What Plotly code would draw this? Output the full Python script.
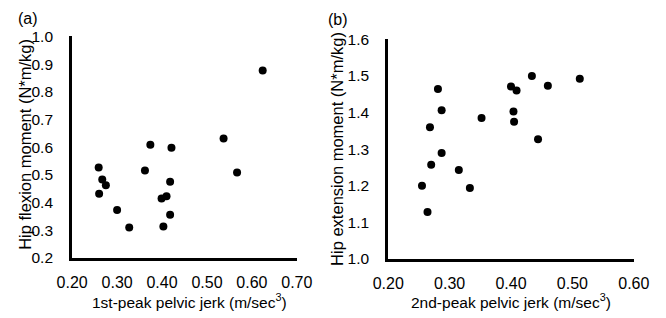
import plotly.graph_objects as go

# Panel (a)
jerk1 = [0.624, 0.374, 0.421, 0.537, 0.259, 0.362, 0.567, 0.267, 0.275, 0.418,
         0.260, 0.399, 0.410, 0.300, 0.418, 0.327, 0.403]
flex = [0.877, 0.609, 0.598, 0.631, 0.527, 0.516, 0.509, 0.483, 0.463, 0.475,
        0.432, 0.415, 0.423, 0.373, 0.356, 0.310, 0.314]
# Panel (b)
jerk2 = [0.281, 0.287, 0.268, 0.352, 0.400, 0.409, 0.404, 0.405, 0.434, 0.460,
         0.512, 0.444, 0.287, 0.270, 0.315, 0.255, 0.333, 0.264]
ext = [1.464, 1.406, 1.360, 1.385, 1.471, 1.460, 1.403, 1.375, 1.500, 1.473,
       1.492, 1.327, 1.289, 1.257, 1.243, 1.200, 1.194, 1.128]

xa_ticks = [0.2, 0.3, 0.4, 0.5, 0.6, 0.7]
ya_ticks = [0.2, 0.3, 0.4, 0.5, 0.6, 0.7, 0.8, 0.9, 1.0]
xb_ticks = [0.2, 0.3, 0.4, 0.5, 0.6]
yb_ticks = [1.0, 1.1, 1.2, 1.3, 1.4, 1.5, 1.6]

W, H = 666, 318
FONT = "Liberation Sans, Arial, sans-serif"

fig = go.Figure()
mk = dict(color="black", size=8)
fig.add_trace(go.Scatter(x=jerk1, y=flex, mode="markers", marker=mk, xaxis="x", yaxis="y", showlegend=False))
fig.add_trace(go.Scatter(x=jerk2, y=ext, mode="markers", marker=mk, xaxis="x2", yaxis="y2", showlegend=False))

def ax(domain, rng, ticks, fmt, anchor, tlen, fsize):
    return dict(domain=domain, range=rng, tickvals=ticks, ticktext=[fmt.format(t) for t in ticks],
                showgrid=False, zeroline=False, showline=True, linecolor="black", linewidth=3,
                ticks="outside", ticklen=tlen, tickcolor="rgba(0,0,0,0)",
                tickfont=dict(size=fsize, color="black", family=FONT), anchor=anchor,
                fixedrange=True)

fig.update_layout(
    width=W, height=H, margin=dict(l=0, r=0, t=0, b=0),
    paper_bgcolor="white", plot_bgcolor="white",
    font=dict(family=FONT, color="black"),
    xaxis=ax([59/W, 295/W], [0.2, 0.7], xa_ticks, "{:.2f}", "y", 8, 16),
    yaxis=ax([1-263/H, 1-29/H], [0.2, 1.0], ya_ticks, "{:.1f}", "x", 13, 15.5),
    xaxis2=ax([391/W, 649/W], [0.2, 0.6], xb_ticks, "{:.2f}", "y2", 8, 16),
    yaxis2=ax([1-264/H, 1-32/H], [1.0, 1.6], yb_ticks, "{:.1f}", "x2", 13, 15.5),
)

def ann(text, x, y, size, angle=0):
    fig.add_annotation(text=text, x=x/W, y=1-y/H, xref="paper", yref="paper", showarrow=False,
                       textangle=angle, font=dict(size=size, color="black", family=FONT),
                       xanchor="center", yanchor="middle")

ann("(a)", 13, 10, 16)
ann("(b)", 338, 11, 16)
ann("Hip flexion moment (N*m/kg)", 10, 143, 16.5, -90)
ann("Hip extension moment (N*m/kg)", 337, 148, 16.5, -90)
ann("1st-peak pelvic jerk (m/sec<sup>3</sup>)", 182, 308, 15.5)
ann("2nd-peak pelvic jerk (m/sec<sup>3</sup>)", 520, 308, 15.5)

fig.write_html("out.html")
